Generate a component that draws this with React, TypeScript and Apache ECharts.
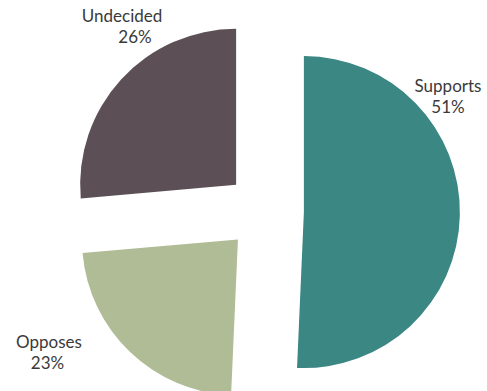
import React, { useEffect, useRef } from "react";
import * as echarts from "echarts";

const categories = ["Supports", "Opposes", "Undecided"];
const shares = [50.7, 22.9, 26.4];
const colors = ["#3a8784", "#b0bc95", "#5c4f55"];

// label placement (style / layout only)
const labelPos: [number, number][] = [
  [448, 96],
  [49, 352],
  [122, 25.5],
];
const percentShift = [0, -3, 26];

export default function App() {
  const ref = useRef<HTMLDivElement>(null);
  useEffect(() => {
    if (!ref.current) return;
    const chart = echarts.init(ref.current, undefined, { renderer: "svg" });
    const total = shares.reduce((a, b) => a + b, 0);
    const textStyle = { fontFamily: "Lato", fontSize: 17, lineHeight: 21, fill: "#3a3a3a", align: "center" };
    chart.setOption({
      animation: false,
      backgroundColor: "#ffffff",
      graphic: categories.map((name, i) => {
        const pct = Math.round((shares[i] / total) * 100);
        const shift = percentShift[i];
        return {
          type: "text",
          x: labelPos[i][0],
          y: labelPos[i][1],
          style: {
            text: `{n|${name}}\n{v|${pct}%}`,
            align: "center",
            verticalAlign: "middle",
            rich: {
              n: { ...textStyle },
              v: {
                ...textStyle,
                padding: shift >= 0 ? [0, 0, 0, shift] : [0, -shift, 0, 0],
              },
            },
          },
        };
      }),
      series: [
        {
          type: "pie",
          center: [264.9, 211.2],
          radius: 156,
          startAngle: 90,
          clockwise: true,
          selectedMode: "multiple",
          selectedOffset: 39,
          avoidLabelOverlap: false,
          emphasis: { disabled: true },
          labelLine: { show: false },
          label: { show: false },
          data: categories.map((name, i) => ({
            name,
            value: shares[i],
            selected: true,
            itemStyle: { color: colors[i], borderWidth: 0 },
            select: { itemStyle: { color: colors[i], borderWidth: 0 } },
          })),
        },
      ],
    });
    return () => chart.dispose();
  }, []);
  return (
    <div
      ref={ref}
      style={{ position: "fixed", left: 0, top: 0, width: 487, height: 391 }}
    />
  );
}
